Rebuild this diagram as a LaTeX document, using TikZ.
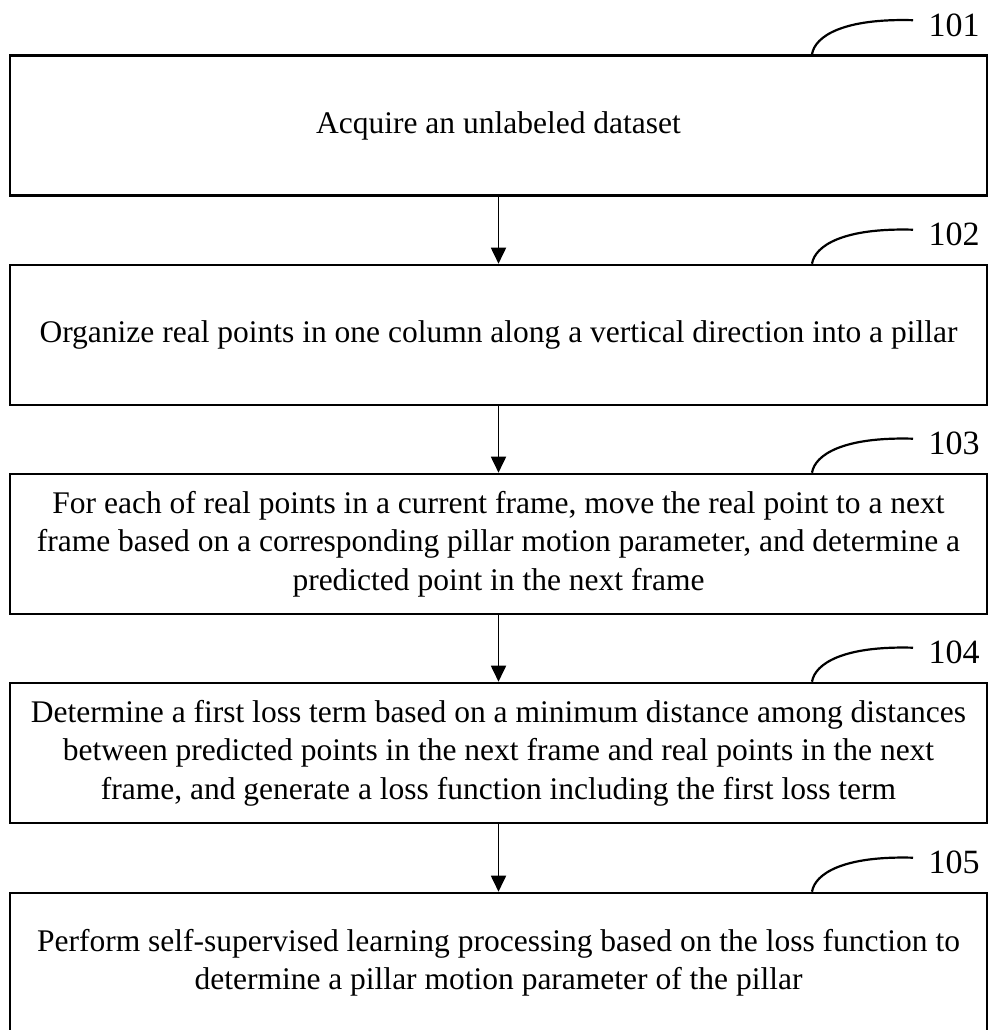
\documentclass[tikz,border=0pt]{standalone}
\usepackage{fontspec}
\setmainfont{Liberation Serif}
\usetikzlibrary{arrows.meta}
\tikzset{
  stepbox/.style={draw=black, line width=2.6pt, minimum width=977pt, minimum height=140pt,
    inner sep=0pt, align=center, font=\fontsize{31.5}{38.5}\selectfont},
  flow/.style={line width=1.8pt, -{Triangle[length=16pt, width=15pt]}},
  refline/.style={line width=2.2pt},
  reflabel/.style={font=\fontsize{34}{40}\selectfont, anchor=west, inner sep=0pt}
}
\begin{document}
\begin{tikzpicture}[x=1pt,y=-1pt]
\useasboundingbox (0,0) rectangle (993,1030);

% process steps
\node[stepbox] (s1) at (498.5,125.5) {Acquire an unlabeled dataset};
\node[stepbox] (s2) at (498.5,335) {Organize real points in one column along a vertical direction into a pillar};
\node[stepbox] (s3) at (498.5,544) {For each of real points in a current frame, move the real point to a next\\frame based on a corresponding pillar motion parameter, and determine a\\predicted point in the next frame};
\node[stepbox] (s4) at (498.5,753) {Determine a first loss term based on a minimum distance among distances\\between predicted points in the next frame and real points in the next\\frame, and generate a loss function including the first loss term};
\node[stepbox] (s5) at (498.5,963) {Perform self-supervised learning processing based on the loss function to\\determine a pillar motion parameter of the pillar};

% arrows between steps
\foreach \a/\b in {s1/s2, s2/s3, s3/s4, s4/s5}
  \draw[flow] (\a.south) -- (\b.north);

% reference numerals with leader curves
\foreach \n/\s in {101/s1, 102/s2, 103/s3, 104/s4, 105/s5}{
  \coordinate (r\n) at ([xshift=313.5pt]\s.north);
  \coordinate (e\n) at ([xshift=414.5pt, yshift=34pt]\s.north);
  \node[reflabel] (l\n) at ([xshift=430pt, yshift=29pt]\s.north) {\n};
  \draw[refline] (r\n) .. controls ([xshift=3pt, yshift=18pt]r\n) and ([xshift=-70pt, yshift=2pt]e\n) .. (e\n);
}
\end{tikzpicture}
\end{document}
